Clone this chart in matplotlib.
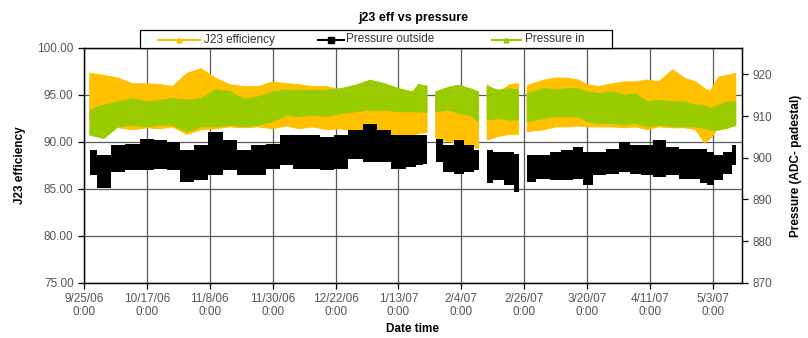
import numpy as np
import pandas as pd
import matplotlib
matplotlib.use("Agg")
import matplotlib.pyplot as plt
from matplotlib.lines import Line2D
from matplotlib.patches import Rectangle

plt.rcParams["font.family"] = ["Liberation Sans", "DejaVu Sans"]

nan = np.nan

# sample dates (NaN rows mark logging gaps)
dates = [
    "2006-09-27", "2006-10-02", "2006-10-07", "2006-10-12", "2006-10-17", "2006-10-22",
    "2006-10-26", "2006-10-31", "2006-11-05", "2006-11-10", "2006-11-15", "2006-11-20",
    "2006-11-25", "2006-11-30", "2006-12-05", "2006-12-09", "2006-12-14", "2006-12-19",
    "2006-12-24", "2006-12-29", "2007-01-03", "2007-01-08", "2007-01-13", "2007-01-18",
    "2007-01-20", "2007-01-23", "2007-01-24 12:00", "2007-01-26", "2007-01-31", "2007-02-03",
    "2007-02-07", "2007-02-10", "2007-02-11 12:00", "2007-02-13", "2007-02-17", "2007-02-21",
    "2007-02-24", "2007-02-25 12:00", "2007-02-27", "2007-03-05", "2007-03-09", "2007-03-13",
    "2007-03-17", "2007-03-20", "2007-03-24", "2007-03-29", "2007-04-02", "2007-04-06",
    "2007-04-10", "2007-04-14", "2007-04-19", "2007-04-23", "2007-04-27", "2007-04-30",
    "2007-05-02", "2007-05-05", "2007-05-08", "2007-05-11",
]

# J23 efficiency band (left axis)
eff_hi = [
    97.3, 97.1, 96.8, 96.2, 96.2, 96.1, 95.9, 97.3, 97.8, 96.8, 96.1, 95.9,
    95.9, 96.4, 96.2, 96.1, 95.9, 95.9, 95.5, 94.5, 94.0, 94.0, 94.0, 94.0,
    94.5, 94.5, nan, 94.5, 95.0, 95.0, 95.0, 95.0, nan, 96.1, 95.3, 96.1,
    96.2, nan, 96.0, 96.6, 96.8, 96.8, 96.6, 96.1, 95.9, 96.2, 96.4, 96.4,
    96.6, 96.4, 97.7, 96.8, 96.4, 95.7, 95.4, 96.9, 97.1, 97.3,
]
eff_lo = [
    92.5, 92.0, 91.5, 91.3, 91.5, 91.4, 91.6, 90.8, 91.3, 91.4, 91.6, 91.5,
    91.6, 91.4, 91.7, 91.4, 91.6, 91.3, 91.4, 91.1, 90.7, 91.1, 90.6, 90.6,
    90.9, 91.0, nan, 90.4, 90.0, 89.9, 89.5, 89.3, nan, 90.2, 90.6, 90.8,
    90.8, nan, 91.1, 91.3, 91.6, 91.6, 91.7, 91.6, 91.6, 91.6, 91.5, 91.6,
    91.3, 91.6, 91.5, 91.5, 91.3, 89.9, 90.3, 91.5, 91.6, 91.7,
]

# pressure outside band (right axis)
out_hi = [
    901.8, 900.6, 903.0, 903.4, 904.6, 904.2, 903.8, 901.8, 903.0, 906.2, 904.2, 901.8,
    903.0, 903.4, 905.4, 905.4, 905.4, 905.0, 905.4, 906.6, 908.2, 906.6, 905.4, 905.4,
    905.4, 905.4, nan, 904.6, 903.0, 904.2, 903.0, 901.8, nan, 901.8, 901.4, 901.4,
    901.0, nan, 900.6, 900.6, 901.4, 901.8, 902.6, 901.4, 901.4, 902.2, 903.8, 903.0,
    903.0, 904.2, 902.6, 902.2, 902.2, 902.2, 901.4, 900.6, 901.4, 903.0,
]
out_lo = [
    895.8, 892.7, 896.6, 897.0, 897.0, 897.4, 897.0, 894.2, 894.6, 895.8, 897.0, 895.8,
    895.8, 897.4, 898.2, 897.4, 897.4, 897.0, 897.4, 899.8, 899.0, 899.0, 897.4, 897.8,
    898.2, 898.6, nan, 899.0, 896.6, 896.2, 896.6, 897.0, nan, 893.9, 894.6, 893.4,
    891.8, nan, 894.2, 895.0, 894.6, 894.6, 895.0, 893.4, 895.8, 896.2, 896.6, 896.2,
    895.8, 895.4, 895.8, 895.0, 895.0, 893.9, 893.4, 894.6, 896.2, 898.2,
]

# pressure inside band (right axis)
in_hi = [
    911.4, 912.6, 913.4, 914.2, 913.4, 913.8, 914.2, 913.8, 914.2, 916.3, 915.9, 914.0,
    914.6, 915.8, 916.2, 916.2, 916.2, 916.2, 916.6, 917.4, 918.6, 917.8, 916.6, 915.8,
    917.6, 917.2, nan, 915.8, 917.0, 917.4, 916.6, 915.8, nan, 917.0, 916.2, 916.6,
    916.2, nan, 915.4, 916.6, 916.2, 916.6, 916.6, 915.8, 915.4, 915.8, 915.0, 915.4,
    913.4, 913.8, 913.4, 913.4, 912.6, 912.6, 911.8, 912.6, 913.4, 913.4,
]
in_lo = [
    905.4, 904.6, 907.4, 907.8, 907.4, 907.8, 907.8, 906.2, 907.4, 907.4, 907.8, 907.4,
    907.8, 908.6, 910.2, 909.8, 910.2, 909.8, 910.6, 911.0, 911.4, 911.4, 911.0, 911.0,
    911.0, 910.8, nan, 911.0, 911.4, 910.6, 910.2, 908.6, nan, 909.0, 909.4, 909.0,
    909.0, nan, 908.6, 909.4, 909.8, 909.8, 909.8, 908.6, 908.2, 908.2, 907.8, 908.2,
    907.4, 907.8, 907.4, 907.4, 907.4, 907.0, 906.6, 906.6, 907.0, 907.8,
]

tick_dates = ["2006-09-25", "2006-10-17", "2006-11-08", "2006-11-30", "2006-12-22",
              "2007-01-13", "2007-02-04", "2007-02-26", "2007-03-20", "2007-04-11",
              "2007-05-03"]

series_names = ["J23 efficiency", "Pressure outside", "Pressure in"]

YELLOW = "#FFC000"
GREEN = "#99CC00"
GRID = "#5a5a5a"
LABEL = "#555555"

t = pd.to_datetime(dates, format="mixed")
ticks = pd.to_datetime(tick_dates)

fig = plt.figure(figsize=(8.08, 3.38), dpi=100)
ax = fig.add_axes([0.104, 0.163, 0.814, 0.695])
ax2 = ax.twinx()

ax.fill_between(t, eff_lo, eff_hi, color=YELLOW, lw=0.6, edgecolor=YELLOW)
ax2.fill_between(t, out_lo, out_hi, color="black", step="mid", lw=0)
ax2.fill_between(t, in_lo, in_hi, color=GREEN, lw=0.6, edgecolor=GREEN)

ax.set_xlim(pd.Timestamp("2006-09-25"), pd.Timestamp("2007-05-13 02:00"))
ax.set_ylim(75, 100)
ax2.set_ylim(870, 926.3)

ax.set_yticks([75, 80, 85, 90, 95, 100])
ax.set_yticklabels([f"{v:.2f}" for v in [75, 80, 85, 90, 95, 100]])
ax2.set_yticks([870, 880, 890, 900, 910, 920])

ax.set_xticks(ticks)
ax.set_xticklabels([f"{d.month}/{d.day}/{d:%y}\n0:00" for d in ticks])

ax.grid(True, color=GRID, lw=0.9)
ax.set_axisbelow(True)

for a in (ax, ax2):
    a.tick_params(direction="out", length=4, width=0.9, color="black",
                  labelsize=8.5, labelcolor=LABEL)
    for s in a.spines.values():
        s.set_color("black")
        s.set_linewidth(0.9)
ax.tick_params(axis="x", pad=3)

ax.set_ylabel("J23 efficiency", fontsize=8.5, fontweight="bold", labelpad=8)
ax2.set_ylabel("Pressure (ADC- padestal)", fontsize=8.5, fontweight="bold", labelpad=13)
ax.set_xlabel("Date time", fontsize=8.5, fontweight="bold", labelpad=3)

fig.text(0.511, 0.948, "j23 eff vs pressure", ha="center", va="center",
         fontsize=9, fontweight="bold")

# legend box sitting on the top edge of the plot area
W, H = 808, 338
fig.add_artist(Rectangle((140 / W, 1 - 48 / H), 472 / W, 18 / H, transform=fig.transFigure,
                         facecolor="white", edgecolor="black", lw=0.9, zorder=5))
handle_x = [(158, 200), (318, 344), (492, 521)]
text_x = [204, 346, 525]
styles = [(YELLOW, "^", 3.5), ("black", "s", 4), (GREEN, "^", 3.5)]
yl = 1 - 39.5 / H
for (x0, x1), tx, (c, m, ms), name in zip(handle_x, text_x, styles, series_names):
    fig.add_artist(Line2D([x0 / W, x1 / W], [yl, yl], transform=fig.transFigure,
                          color=c, lw=1.5, zorder=6))
    fig.add_artist(Line2D([(x0 + x1) / 2 / W], [yl], transform=fig.transFigure,
                          color=c, marker=m, markersize=ms, lw=0, zorder=7))
    fig.text(tx / W, yl, name, ha="left", va="center", fontsize=8.5,
             color="#333333", zorder=7)

fig.savefig("out.png", dpi=100)
